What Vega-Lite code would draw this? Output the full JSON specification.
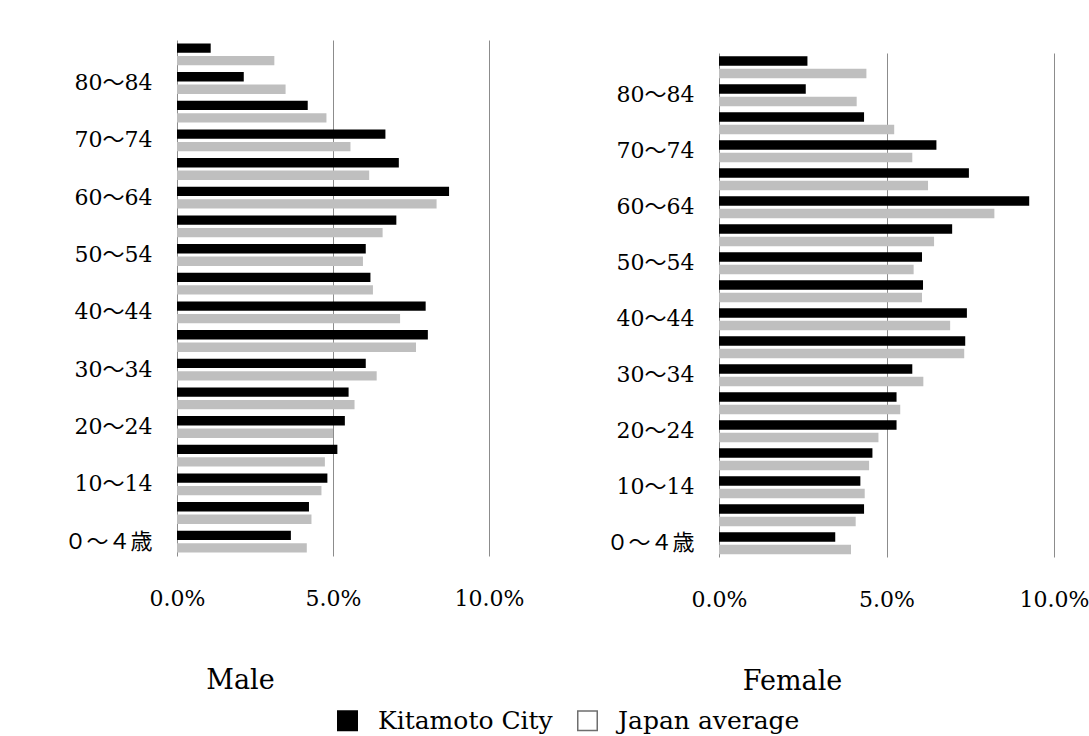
{
  "$schema": "https://vega.github.io/schema/vega-lite/v6.json",
  "background": "white",
  "padding": {"left": 63, "top": 40, "right": 0, "bottom": 0},
  "config": {
    "view": {"stroke": null},
    "font": "DejaVu Serif",
    "axisX": {
      "grid": true, "gridColor": "#8c8c8c", "gridWidth": 1,
      "domain": false, "ticks": false,
      "labelFont": "DejaVu Serif", "labelFontSize": 22, "labelColor": "#000000",
      "labelPadding": 32, "labelFlush": false, "labelOverlap": false, "labelBound": false,
      "titleFont": "DejaVu Serif", "titleFontSize": 27, "titleFontWeight": "normal", "titleColor": "#000000"
    },
    "axisY": {
      "grid": false, "domain": false, "ticks": false,
      "labelFont": "DejaVu Serif, Noto Sans CJK JP", "labelFontSize": 22, "labelColor": "#000000",
      "labelPadding": 25, "labelOverlap": false
    }
  },
  "data": {"values": [
    {"sex": "Male", "age": "85～", "series": "Kitamoto City", "value": 0.0108},
    {"sex": "Male", "age": "85～", "series": "Japan average", "value": 0.0312},
    {"sex": "Male", "age": "80～84", "series": "Kitamoto City", "value": 0.0214},
    {"sex": "Male", "age": "80～84", "series": "Japan average", "value": 0.0348},
    {"sex": "Male", "age": "75～79", "series": "Kitamoto City", "value": 0.0419},
    {"sex": "Male", "age": "75～79", "series": "Japan average", "value": 0.0479},
    {"sex": "Male", "age": "70～74", "series": "Kitamoto City", "value": 0.0668},
    {"sex": "Male", "age": "70～74", "series": "Japan average", "value": 0.0556},
    {"sex": "Male", "age": "65～69", "series": "Kitamoto City", "value": 0.0711},
    {"sex": "Male", "age": "65～69", "series": "Japan average", "value": 0.0616},
    {"sex": "Male", "age": "60～64", "series": "Kitamoto City", "value": 0.0872},
    {"sex": "Male", "age": "60～64", "series": "Japan average", "value": 0.0832},
    {"sex": "Male", "age": "55～59", "series": "Kitamoto City", "value": 0.0703},
    {"sex": "Male", "age": "55～59", "series": "Japan average", "value": 0.0659},
    {"sex": "Male", "age": "50～54", "series": "Kitamoto City", "value": 0.0605},
    {"sex": "Male", "age": "50～54", "series": "Japan average", "value": 0.0596},
    {"sex": "Male", "age": "45～49", "series": "Kitamoto City", "value": 0.0620},
    {"sex": "Male", "age": "45～49", "series": "Japan average", "value": 0.0628},
    {"sex": "Male", "age": "40～44", "series": "Kitamoto City", "value": 0.0797},
    {"sex": "Male", "age": "40～44", "series": "Japan average", "value": 0.0715},
    {"sex": "Male", "age": "35～39", "series": "Kitamoto City", "value": 0.0804},
    {"sex": "Male", "age": "35～39", "series": "Japan average", "value": 0.0766},
    {"sex": "Male", "age": "30～34", "series": "Kitamoto City", "value": 0.0605},
    {"sex": "Male", "age": "30～34", "series": "Japan average", "value": 0.0640},
    {"sex": "Male", "age": "25～29", "series": "Kitamoto City", "value": 0.0550},
    {"sex": "Male", "age": "25～29", "series": "Japan average", "value": 0.0569},
    {"sex": "Male", "age": "20～24", "series": "Kitamoto City", "value": 0.0538},
    {"sex": "Male", "age": "20～24", "series": "Japan average", "value": 0.0500},
    {"sex": "Male", "age": "15～19", "series": "Kitamoto City", "value": 0.0514},
    {"sex": "Male", "age": "15～19", "series": "Japan average", "value": 0.0474},
    {"sex": "Male", "age": "10～14", "series": "Kitamoto City", "value": 0.0482},
    {"sex": "Male", "age": "10～14", "series": "Japan average", "value": 0.0463},
    {"sex": "Male", "age": "5～9", "series": "Kitamoto City", "value": 0.0423},
    {"sex": "Male", "age": "5～9", "series": "Japan average", "value": 0.0431},
    {"sex": "Male", "age": "０～４歳", "series": "Kitamoto City", "value": 0.0365},
    {"sex": "Male", "age": "０～４歳", "series": "Japan average", "value": 0.0416},
    {"sex": "Female", "age": "85～", "series": "Kitamoto City", "value": 0.0264},
    {"sex": "Female", "age": "85～", "series": "Japan average", "value": 0.0440},
    {"sex": "Female", "age": "80～84", "series": "Kitamoto City", "value": 0.0259},
    {"sex": "Female", "age": "80～84", "series": "Japan average", "value": 0.0411},
    {"sex": "Female", "age": "75～79", "series": "Kitamoto City", "value": 0.0433},
    {"sex": "Female", "age": "75～79", "series": "Japan average", "value": 0.0523},
    {"sex": "Female", "age": "70～74", "series": "Kitamoto City", "value": 0.0649},
    {"sex": "Female", "age": "70～74", "series": "Japan average", "value": 0.0577},
    {"sex": "Female", "age": "65～69", "series": "Kitamoto City", "value": 0.0746},
    {"sex": "Female", "age": "65～69", "series": "Japan average", "value": 0.0624},
    {"sex": "Female", "age": "60～64", "series": "Kitamoto City", "value": 0.0926},
    {"sex": "Female", "age": "60～64", "series": "Japan average", "value": 0.0822},
    {"sex": "Female", "age": "55～59", "series": "Kitamoto City", "value": 0.0696},
    {"sex": "Female", "age": "55～59", "series": "Japan average", "value": 0.0642},
    {"sex": "Female", "age": "50～54", "series": "Kitamoto City", "value": 0.0606},
    {"sex": "Female", "age": "50～54", "series": "Japan average", "value": 0.0581},
    {"sex": "Female", "age": "45～49", "series": "Kitamoto City", "value": 0.0609},
    {"sex": "Female", "age": "45～49", "series": "Japan average", "value": 0.0606},
    {"sex": "Female", "age": "40～44", "series": "Kitamoto City", "value": 0.0740},
    {"sex": "Female", "age": "40～44", "series": "Japan average", "value": 0.0690},
    {"sex": "Female", "age": "35～39", "series": "Kitamoto City", "value": 0.0735},
    {"sex": "Female", "age": "35～39", "series": "Japan average", "value": 0.0732},
    {"sex": "Female", "age": "30～34", "series": "Kitamoto City", "value": 0.0577},
    {"sex": "Female", "age": "30～34", "series": "Japan average", "value": 0.0610},
    {"sex": "Female", "age": "25～29", "series": "Kitamoto City", "value": 0.0530},
    {"sex": "Female", "age": "25～29", "series": "Japan average", "value": 0.0541},
    {"sex": "Female", "age": "20～24", "series": "Kitamoto City", "value": 0.0530},
    {"sex": "Female", "age": "20～24", "series": "Japan average", "value": 0.0476},
    {"sex": "Female", "age": "15～19", "series": "Kitamoto City", "value": 0.0458},
    {"sex": "Female", "age": "15～19", "series": "Japan average", "value": 0.0448},
    {"sex": "Female", "age": "10～14", "series": "Kitamoto City", "value": 0.0422},
    {"sex": "Female", "age": "10～14", "series": "Japan average", "value": 0.0435},
    {"sex": "Female", "age": "5～9", "series": "Kitamoto City", "value": 0.0433},
    {"sex": "Female", "age": "5～9", "series": "Japan average", "value": 0.0408},
    {"sex": "Female", "age": "０～４歳", "series": "Kitamoto City", "value": 0.0347},
    {"sex": "Female", "age": "０～４歳", "series": "Japan average", "value": 0.0394}
  ]},
  "spacing": 81,
  "hconcat": [
    {
      "width": 312,
      "height": 516,
      "transform": [{"filter": "datum.sex === 'Male'"}],
      "mark": {"type": "bar"},
      "encoding": {
        "y": {
          "field": "age", "type": "nominal",
          "sort": ["85～", "80～84", "75～79", "70～74", "65～69", "60～64", "55～59", "50～54", "45～49", "40～44", "35～39", "30～34", "25～29", "20～24", "15～19", "10～14", "5～9", "０～４歳"],
          "scale": {"paddingInner": 0.24, "paddingOuter": 0.12},
          "axis": {"title": null, "values": ["80～84", "70～74", "60～64", "50～54", "40～44", "30～34", "20～24", "10～14", "０～４歳"]}
        },
        "yOffset": {"field": "series", "type": "nominal", "sort": ["Kitamoto City", "Japan average"], "scale": {"paddingInner": 0.25}},
        "x": {
          "field": "value", "type": "quantitative",
          "scale": {"domain": [0, 0.1], "nice": false, "zero": true},
          "axis": {"values": [0, 0.05, 0.1], "format": ".1%", "title": "Male", "titleX": 63, "titleY": 132, "titleAlign": "center", "titleBaseline": "alphabetic"}
        },
        "color": {
          "field": "series", "type": "nominal",
          "scale": {"domain": ["Kitamoto City", "Japan average"], "range": ["#000000", "#bfbfbf"]},
          "legend": {
            "orient": "none", "legendX": 158, "legendY": 668, "direction": "horizontal",
            "title": null, "padding": 0, "symbolType": "square", "symbolSize": 380,
            "labelFont": "DejaVu Serif", "labelFontSize": 25, "labelColor": "#000000",
            "labelOffset": 18, "columnPadding": 21, "labelLimit": 400,
            "symbolStrokeWidth": 1.5,
            "encode": {"symbols": {"update": {
              "fill": {"signal": "datum.value === 'Japan average' ? '#ffffff' : '#000000'"},
              "fillOpacity": {"signal": "datum.value === 'Japan average' ? 0 : 1"},
              "stroke": {"signal": "datum.value === 'Japan average' ? '#6e6e6e' : '#000000'"}
            }}}
          }
        }
      }
    },
    {
      "spacing": 0,
      "vconcat": [
        {
          "width": 335,
          "height": 12.7,
          "transform": [{"filter": "false"}],
          "mark": {"type": "point", "opacity": 0}
        },
        {
          "width": 335,
          "height": 504,
          "transform": [{"filter": "datum.sex === 'Female'"}],
          "mark": {"type": "bar"},
          "encoding": {
            "y": {
              "field": "age", "type": "nominal",
              "sort": ["85～", "80～84", "75～79", "70～74", "65～69", "60～64", "55～59", "50～54", "45～49", "40～44", "35～39", "30～34", "25～29", "20～24", "15～19", "10～14", "5～9", "０～４歳"],
              "scale": {"paddingInner": 0.24, "paddingOuter": 0.12},
              "axis": {"title": null, "values": ["80～84", "70～74", "60～64", "50～54", "40～44", "30～34", "20～24", "10～14", "０～４歳"]}
            },
            "yOffset": {"field": "series", "type": "nominal", "sort": ["Kitamoto City", "Japan average"], "scale": {"paddingInner": 0.25}},
            "x": {
              "field": "value", "type": "quantitative",
              "scale": {"domain": [0, 0.1], "nice": false, "zero": true},
              "axis": {"values": [0, 0.05, 0.1], "format": ".1%", "title": "Female", "titleX": 73, "titleY": 132, "titleAlign": "center", "titleBaseline": "alphabetic"}
            },
            "color": {
              "field": "series", "type": "nominal",
              "scale": {"domain": ["Kitamoto City", "Japan average"], "range": ["#000000", "#bfbfbf"]},
              "legend": {
                "orient": "none", "legendX": 158, "legendY": 668, "direction": "horizontal",
                "title": null, "padding": 0, "symbolType": "square", "symbolSize": 380,
                "labelFont": "DejaVu Serif", "labelFontSize": 25, "labelColor": "#000000",
                "labelOffset": 18, "columnPadding": 21, "labelLimit": 400,
                "symbolStrokeWidth": 1.5,
                "encode": {"symbols": {"update": {
                  "fill": {"signal": "datum.value === 'Japan average' ? '#ffffff' : '#000000'"},
                  "fillOpacity": {"signal": "datum.value === 'Japan average' ? 0 : 1"},
                  "stroke": {"signal": "datum.value === 'Japan average' ? '#6e6e6e' : '#000000'"}
                }}}
              }
            }
          }
        }
      ]
    }
  ]
}
